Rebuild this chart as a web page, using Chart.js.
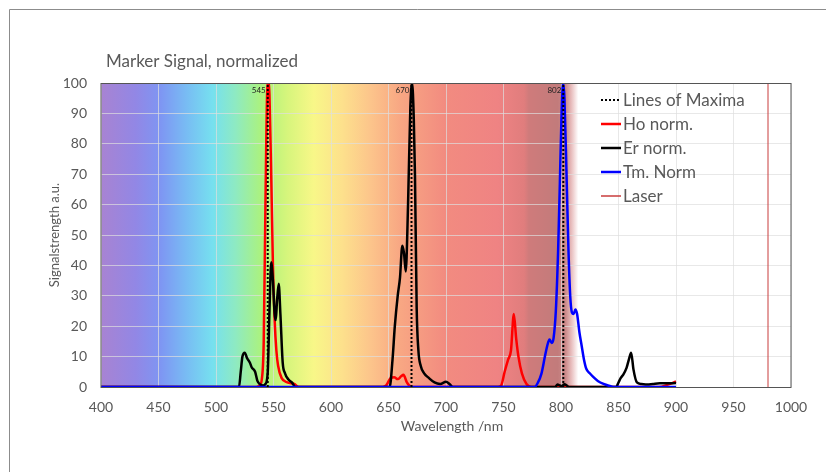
<!DOCTYPE html>
<html>
<head>
<meta charset="utf-8">
<script src="https://cdn.jsdelivr.net/npm/chart.js@4"></script>
<style>
  html, body { margin: 0; padding: 0; background: #fff; }
  #wrap { width: 826px; height: 472px; }
</style>
</head>
<body>
<div id="wrap"><canvas id="spectrum" width="826" height="472"></canvas></div>
<script>
// wavelength (nm) / normalized signal pairs
var hoX = [400, 535, 538, 540, 541.5, 543, 544.5, 545.5, 546.5, 548, 549.5, 551, 552.5, 554, 557, 562, 568, 572,
           645, 648, 652, 655, 658, 661, 663, 666, 668, 671,
           745, 748, 751, 754, 756.5, 759, 761, 763, 766, 770, 774, 885, 893, 900];
var hoY = [0, 0, 0.5, 3, 15, 60, 97, 100, 96, 70, 40, 22, 12, 7, 3, 1.5, 1, 0,
           0, 0.5, 3, 3.2, 2.6, 3.5, 4, 1.5, 0.5, 0,
           0, 0.5, 5, 9, 12, 24, 16, 10, 4.5, 1, 0, 0, 0.8, 1.8];

var erX = [400, 520, 521.5, 523, 525, 527, 529.5, 531, 534, 536, 538.5, 541, 543, 545, 546.5, 548, 549.5, 551, 552,
           553, 554.5, 556, 558, 560, 563, 566, 569,
           651, 653.5, 655.5, 658, 660, 662, 663.5, 665, 667, 669, 670.5, 672, 673, 674.5, 676, 678, 681, 685, 690,
           695, 700, 703, 706,
           795, 797, 799, 801, 803, 805, 807,
           848, 850, 852, 854, 857, 859, 861, 863, 866, 870, 875, 880, 886, 892, 900];
var erY = [0, 0, 5, 10, 11.3, 9.5, 8, 6.5, 5, 2, 0.8, 0.5, 1, 5, 25, 41, 35, 24, 22,
           28, 34, 24, 8, 4.5, 2.5, 1.5, 0,
           0, 9, 20, 30, 36, 46.5, 44, 38, 60, 92, 100, 88, 70, 26, 12, 7, 4.5, 3, 1.5,
           1, 1.7, 1, 0,
           0, 0.8, 0.5, 0.3, 0.9, 0.5, 0,
           0, 1.5, 3, 4, 6.3, 9, 11.3, 5.8, 1.5, 1, 0.8, 1, 1.2, 1.2, 1.3];

var tmX = [400, 777, 780, 783, 786, 788, 790, 792, 793.5, 795.5, 797.5, 799, 800.5, 801.8, 803, 805, 806.5, 808,
           809.5, 811, 812.5, 814, 816, 818, 820, 822, 825, 828, 832, 837, 841, 846, 900];
var tmY = [0, 0, 1.5, 4.4, 10, 13.5, 15.6, 14.5, 16, 25, 45, 67, 90, 100, 95, 67, 45, 30,
           24.5, 24, 25.5, 24, 18, 13.5, 9, 6, 4.5, 3.3, 2, 1, 0.5, 0, 0];

var maximaWl = [545, 670, 802];
var laserWl = 980;

var xTicks = { min: 400, max: 1000, step: 50 };
var yTicks = { min: 0, max: 100, step: 10 };

function pairs(xs, ys) {
    return xs.map(function (x, i) { return { x: x, y: ys[i] }; });
}

var maximaPts = [];
maximaWl.forEach(function (w) {
    maximaPts.push({ x: w, y: yTicks.min }, { x: w, y: yTicks.max }, { x: w, y: null });
});

var grey = '#595959';
var fontFam = 'Lato, "Open Sans", sans-serif';

// spectrum colours behind the plot, by wavelength
var spectrumStops = [
    [400, '#a883d2'], [430, '#9287e5'], [452, '#7e96f3'], [475, '#78bdf3'], [497, '#76e0ef'],
    [517, '#8eeac2'], [540, '#acf27c'], [562, '#d6f57c'], [585, '#f8f788'], [610, '#fde08c'],
    [635, '#fcc48b'], [660, '#f8a783'], [700, '#f28b80'], [745, '#ef8383'], [768, '#e07d7d'],
    [772, '#cf7b7b'], [797, '#c27b7b'], [804, '#cc8a8a'], [809, '#e8bdbd'], [815, '#ffffff']
];

var decor = {
    id: 'decor',
    beforeDraw: function (chart) {
        var c = chart.ctx, a = chart.chartArea, xs = chart.scales.x;
        c.save();
        c.fillStyle = '#fff';
        c.fillRect(0, 0, chart.width, chart.height);
        var x0 = xs.getPixelForValue(xTicks.min), x1 = xs.getPixelForValue(xTicks.max);
        var g = c.createLinearGradient(x0, 0, x1, 0);
        spectrumStops.forEach(function (s) {
            g.addColorStop((s[0] - xTicks.min) / (xTicks.max - xTicks.min), s[1]);
        });
        g.addColorStop(1, '#ffffff');
        c.fillStyle = g;
        c.fillRect(a.left, a.top, a.right - a.left, a.bottom - a.top);
        c.restore();
    },
    afterDraw: function (chart) {
        var c = chart.ctx, a = chart.chartArea, xs = chart.scales.x;
        c.save();
        // outer frame
        c.strokeStyle = '#8c8c8c';
        c.lineWidth = 1;
        c.beginPath();
        c.moveTo(9.5, chart.height);
        c.lineTo(9.5, 9.5);
        c.lineTo(chart.width, 9.5);
        c.stroke();
        // plot border
        c.strokeStyle = '#555';
        c.strokeRect(a.left, a.top + 0.5, a.right - a.left, a.bottom - a.top);
        // maxima labels
        c.fillStyle = '#222';
        c.font = '8px ' + fontFam;
        c.textAlign = 'right';
        c.textBaseline = 'middle';
        maximaWl.forEach(function (w) {
            c.fillText(String(w), xs.getPixelForValue(w) - 2, a.top + 7);
        });
        // titles
        c.fillStyle = grey;
        c.textAlign = 'left';
        c.textBaseline = 'middle';
        c.font = '17px ' + fontFam;
        c.fillText('Marker Signal, normalized', 106, 62);
        c.textAlign = 'center';
        c.font = '14px ' + fontFam;
        c.fillText('Wavelength /nm', (a.left + a.right) / 2 + 6, 426);
        c.font = '13px ' + fontFam;
        c.translate(55, (a.top + a.bottom) / 2);
        c.rotate(-Math.PI / 2);
        c.fillText('Signalstrength a.u.', 0, 0);
        c.restore();
        // legend
        c.save();
        c.font = '17px ' + fontFam;
        c.textAlign = 'left';
        c.textBaseline = 'middle';
        var lx = a.left + 500, ly = a.top + 17;
        chart.data.datasets.forEach(function (ds, i) {
            var y = ly + i * 24;
            c.strokeStyle = ds.borderColor;
            c.lineWidth = ds.legendWidth;
            c.setLineDash(ds.borderDash || []);
            c.beginPath();
            c.moveTo(lx, y);
            c.lineTo(lx + 20, y);
            c.stroke();
            c.setLineDash([]);
            c.fillStyle = grey;
            c.fillText(ds.label, lx + 22, y + 1);
        });
        c.restore();
    }
};

var ctx = document.getElementById('spectrum').getContext('2d');
var spectrum = new Chart(ctx, {
    type: 'line',
    data: {
        datasets: [{
            label: 'Lines of Maxima',
            data: maximaPts,
            borderColor: '#000',
            borderWidth: 2,
            legendWidth: 2,
            borderDash: [2, 2],
            tension: 0,
            spanGaps: false,
            order: 0
        }, {
            label: 'Ho norm.',
            data: pairs(hoX, hoY),
            borderColor: '#ff0000',
            borderWidth: 2.5,
            legendWidth: 2.5,
            cubicInterpolationMode: 'monotone',
            order: 4
        }, {
            label: 'Er norm.',
            data: pairs(erX, erY),
            borderColor: '#000000',
            borderWidth: 2.5,
            legendWidth: 2.5,
            cubicInterpolationMode: 'monotone',
            order: 3
        }, {
            label: 'Tm. Norm',
            data: pairs(tmX, tmY),
            borderColor: '#0000ff',
            borderWidth: 2.5,
            legendWidth: 2.5,
            cubicInterpolationMode: 'monotone',
            order: 2
        }, {
            label: 'Laser',
            data: [{ x: laserWl, y: yTicks.min }, { x: laserWl, y: yTicks.max }],
            borderColor: '#c83c3c',
            borderWidth: 1,
            legendWidth: 1.5,
            tension: 0,
            order: 1
        }]
    },
    options: {
        responsive: false,
        animation: false,
        events: [],
        layout: { padding: { top: 83, right: 35, left: 0, bottom: 0 } },
        elements: { point: { radius: 0 } },
        scales: {
            x: {
                type: 'linear',
                min: xTicks.min,
                max: xTicks.max,
                afterFit: function (s) { s.height = 85; },
                ticks: {
                    stepSize: xTicks.step, color: grey, font: { family: fontFam, size: 14 }, padding: 12,
                    callback: function (v) { return String(v); }
                },
                grid: { color: 'rgba(222,222,222,0.7)', drawTicks: false },
                border: { display: false }
            },
            y: {
                min: yTicks.min,
                max: yTicks.max,
                afterFit: function (s) { s.width = 101; },
                ticks: { stepSize: yTicks.step, color: grey, font: { family: fontFam, size: 14 }, padding: 14 },
                grid: { color: 'rgba(222,222,222,0.7)', drawTicks: false },
                border: { display: false }
            }
        },
        plugins: {
            legend: { display: false },
            tooltip: { enabled: false }
        }
    },
    plugins: [decor]
});
</script>
</body>
</html>
